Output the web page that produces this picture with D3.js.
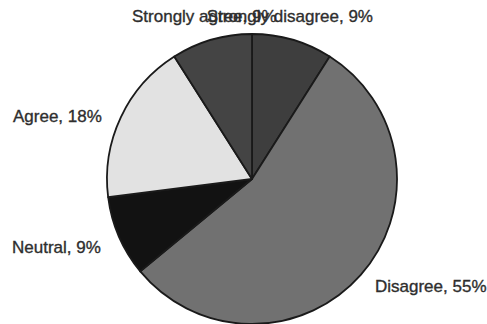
<!DOCTYPE html>
<html>
<head>
<meta charset="utf-8">
<script src="https://cdn.jsdelivr.net/npm/d3@7"></script>
<style>
  html, body { margin: 0; padding: 0; background: #fff; }
  svg { display: block; }
  text { font-family: "Liberation Sans", Arial, sans-serif; font-size: 17px; fill: #2e2e2e; stroke: #2e2e2e; stroke-width: 0.35px; }
</style>
</head>
<body>
<svg id="chart" width="487" height="324"></svg>
<script>
// Survey responses, in drawing order (clockwise from 12 o'clock)
const categories = ["Strongly disagree", "Disagree", "Neutral", "Agree", "Strongly agree"];
const percents = [9, 55, 9, 18, 9];
const fills = ["#3e3e3e", "#717171", "#121212", "#e2e2e2", "#444444"];

// Label anchor placements (text-anchor, x, baseline y)
const labelPos = [
  { anchor: "end", x: 373, y: 22 },
  { anchor: "start", x: 375, y: 292 },
  { anchor: "start", x: 12, y: 253 },
  { anchor: "start", x: 13, y: 122 },
  { anchor: "start", x: 132, y: 22 }
];

const data = categories.map((c, i) => ({ name: c, value: percents[i], fill: fills[i], pos: labelPos[i] }));

const svg = d3.select("#chart");
const cx = 252, cy = 179, r = 145;

const pie = d3.pie().value(d => d.value).sort(null);
const arc = d3.arc().innerRadius(0).outerRadius(r);

const g = svg.append("g").attr("transform", `translate(${cx},${cy})`);
g.selectAll("path")
  .data(pie(data))
  .join("path")
  .attr("d", arc)
  .attr("fill", d => d.data.fill)
  .attr("stroke", "#1a1a1a")
  .attr("stroke-width", 1.8)
  .attr("stroke-linejoin", "round");

svg.selectAll("text.lbl")
  .data(data)
  .join("text")
  .attr("class", "lbl")
  .attr("x", d => d.pos.x)
  .attr("y", d => d.pos.y)
  .attr("text-anchor", d => d.pos.anchor)
  .text(d => `${d.name}, ${d.value}%`);
</script>
</body>
</html>
